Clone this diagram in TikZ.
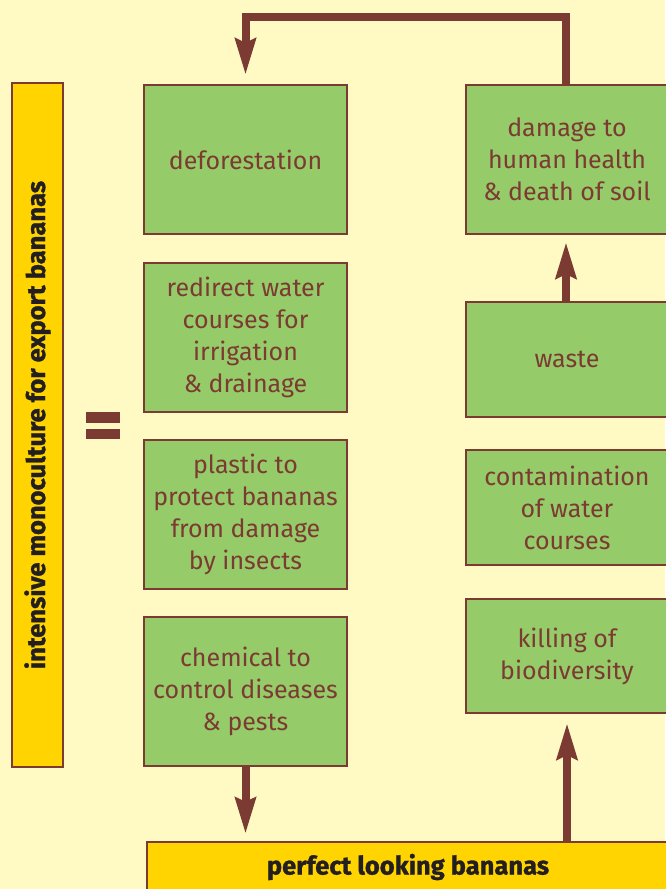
\documentclass[tikz,border=0pt]{standalone}
\usepackage{fontspec}
\setmainfont{Fira Sans}
\newfontfamily\heavy[BoldFeatures={FakeBold=1.2}]{Fira Sans}
\usetikzlibrary{arrows.meta,positioning}
\definecolor{bg}{HTML}{FFFAC4}
\definecolor{grn}{HTML}{96CB69}
\definecolor{brn}{HTML}{7B3B32}
\definecolor{yel}{HTML}{FFD400}
\definecolor{ink}{HTML}{231F20}
\tikzset{
  gbox/.style={draw=brn,line width=2pt,fill=grn,text=brn,align=center,
    font=\fontsize{25}{32}\selectfont,inner sep=0pt,outer sep=0pt},
  ybox/.style={draw=brn,line width=2pt,fill=yel,text=ink,align=center,
    font=\heavy\fontsize{25.5}{28}\bfseries\selectfont,inner sep=0pt,outer sep=0pt},
  arr/.style={draw=brn,line width=8pt,-{Stealth[length=36pt,width=20pt,inset=4pt]}},
}
\begin{document}
\begin{tikzpicture}[x=1pt,y=-1pt]
\fill[bg] (0,0) rectangle (665,889);
\useasboundingbox (0,0) rectangle (665,889);
% left column
\node[gbox,minimum width=203pt,minimum height=149pt] (def) at (245.5,159.5) {deforestation};
\node[gbox,minimum width=203pt,minimum height=149pt] (wat) at (245.5,337.5) {redirect water\\courses for\\irrigation\\\& drainage};
\node[gbox,minimum width=203pt,minimum height=149pt] (pla) at (245.5,514.5) {plastic to\\protect bananas\\from damage\\by insects};
\node[gbox,minimum width=203pt,minimum height=149pt] (che) at (245.5,691.5) {chemical to\\control diseases\\\& pests};
% right column
\node[gbox,minimum width=202pt,minimum height=149pt] (dmg) at (567,159.5) {damage to\\human health\\\& death of soil};
\node[gbox,minimum width=202pt,minimum height=115pt] (was) at (567,359.5) {waste};
\node[gbox,minimum width=202pt,minimum height=115pt] (con) at (567,507.5) {contamination\\of water\\courses};
\node[gbox,minimum width=202pt,minimum height=114pt] (kil) at (567,656) {killing of\\biodiversity};
% yellow bars
\node[ybox,minimum width=51pt,minimum height=684pt] (mono) at (37.5,425) {};
\node[rotate=90,text=ink,inner sep=0pt,font=\heavy\fontsize{25.5}{28}\bfseries\selectfont] (monot) at (mono.center) {intensive monoculture for export bananas};
\node[ybox,minimum width=522pt,minimum height=50pt] (bot) at (408,867) {perfect looking bananas};
% equals sign
\fill[brn] (86,412) rectangle (120,423);
\fill[brn] (86,429) rectangle (120,439);
% connectors
\coordinate (tl) at (245.5,17);
\draw[arr] ([xshift=-1pt]dmg.north) |- (tl) -- ([yshift=10pt]def.north);
\draw[arr] ([xshift=-1pt]was.north) -- ([xshift=-1pt,yshift=-8pt]dmg.south);
\coordinate (cb) at (che.south |- bot.north);
\draw[arr] (che.south) -- ([yshift=8pt]cb);
\coordinate (kb) at (kil.south |- bot.north);
\draw[arr] (kb) -- ([yshift=-10pt]kil.south);
\end{tikzpicture}
\end{document}
